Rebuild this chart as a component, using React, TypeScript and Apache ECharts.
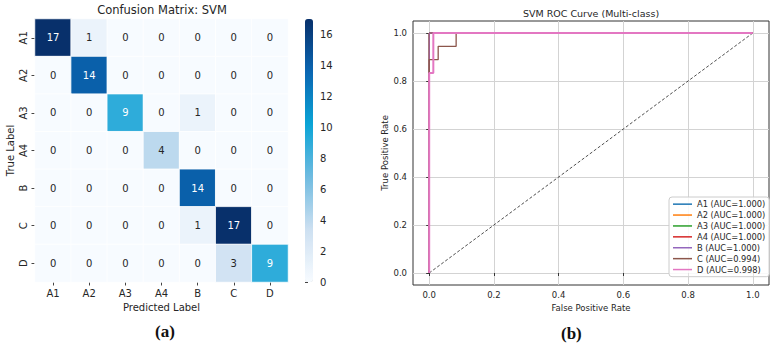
import React, { useEffect, useRef } from "react";
import * as echarts from "echarts";

const classes = ["A1", "A2", "A3", "A4", "B", "C", "D"];
const confusion = [
  [17, 1, 0, 0, 0, 0, 0],
  [0, 14, 0, 0, 0, 0, 0],
  [0, 0, 9, 0, 1, 0, 0],
  [0, 0, 0, 4, 0, 0, 0],
  [0, 0, 0, 0, 14, 0, 0],
  [0, 0, 0, 0, 1, 17, 0],
  [0, 0, 0, 0, 0, 3, 9],
];
const colorbarTicks = [0, 2, 4, 6, 8, 10, 12, 14, 16];
const rocTicks = [0, 0.2, 0.4, 0.6, 0.8, 1.0];

const rocNames = [
  "A1 (AUC=1.000)",
  "A2 (AUC=1.000)",
  "A3 (AUC=1.000)",
  "A4 (AUC=1.000)",
  "B (AUC=1.000)",
  "C (AUC=0.994)",
  "D (AUC=0.998)",
];
const rocColors = ["#1f77b4", "#ff7f0e", "#2ca02c", "#d62728", "#9467bd", "#8c564b", "#e377c2"];
const fprA1 = [0, 0, 1];
const tprA1 = [0, 1, 1];
const fprA2 = [0, 0, 1];
const tprA2 = [0, 1, 1];
const fprA3 = [0, 0, 1];
const tprA3 = [0, 1, 1];
const fprA4 = [0, 0, 1];
const tprA4 = [0, 1, 1];
const fprB = [0, 0, 1];
const tprB = [0, 1, 1];
const fprC = [0, 0, 0, 0.0278, 0.0278, 0.0833, 0.0833, 1];
const tprC = [0, 0.8333, 0.8889, 0.8889, 0.9444, 0.9444, 1, 1];
const fprD = [0, 0, 0.0128, 0.0128, 1];
const tprD = [0, 0.8333, 0.8333, 1, 1];
const rocFpr = [fprA1, fprA2, fprA3, fprA4, fprB, fprC, fprD];
const rocTpr = [tprA1, tprA2, tprA3, tprA4, tprB, tprC, tprD];
const diagFpr = [0, 1];
const diagTpr = [0, 1];

const FONT = "DejaVu Sans";

export default function App() {
  const ref = useRef<HTMLDivElement>(null);
  useEffect(() => {
    if (!ref.current) return;
    const chart = echarts.init(ref.current, null, { renderer: "svg" });

    const heatData: any[] = [];
    confusion.forEach((row, r) =>
      row.forEach((v, c) => {
        heatData.push({
          value: [c, r, v],
          label: { color: v >= 9 ? "#ffffff" : "#262626" },
        });
      })
    );

    const rocSeries = rocNames.map((name, i) => ({
      name,
      type: "line",
      xAxisIndex: 1,
      yAxisIndex: 1,
      data: rocFpr[i].map((x, j) => [x, rocTpr[i][j]]),
      showSymbol: false,
      symbol: "none",
      lineStyle: { color: rocColors[i], width: i === 6 ? 2 : i === 5 ? 1.3 : 1 },
      itemStyle: { color: rocColors[i] },
      z: 3 + i,
    }));

    const option: any = {
      animation: false,
      textStyle: { fontFamily: FONT },
      title: [
        {
          text: "Confusion Matrix: SVM",
          left: 162,
          top: 4,
          padding: 0,
          textAlign: "center",
          textStyle: { fontFamily: FONT, fontSize: 11.5, fontWeight: "normal", color: "#262626" },
        },
        {
          text: "SVM ROC Curve (Multi-class)",
          left: 591,
          top: 8,
          padding: 0,
          textAlign: "center",
          textStyle: { fontFamily: FONT, fontSize: 9.5, fontWeight: "normal", color: "#262626" },
        },
      ],
      grid: [
        { left: 35, top: 19, width: 253, height: 263 },
        {
          left: 413,
          top: 21,
          width: 356,
          height: 264,
          show: true,
          borderColor: "#333",
          borderWidth: 1,
          backgroundColor: "transparent",
        },
        { left: 305, top: 19, width: 8, height: 263 },
      ],
      xAxis: [
        {
          type: "category",
          gridIndex: 0,
          data: classes,
          position: "bottom",
          axisLine: { show: false },
          axisTick: { show: true, alignWithLabel: true, length: 3.5, lineStyle: { color: "#444" } },
          axisLabel: { fontSize: 10, color: "#262626", margin: 6, fontFamily: FONT },
          splitLine: { show: false },
          name: "Predicted Label",
          nameLocation: "middle",
          nameGap: 19,
          nameTextStyle: { fontSize: 10, color: "#262626", fontFamily: FONT },
        },
        {
          type: "value",
          gridIndex: 1,
          min: -0.05,
          max: 1.05,
          axisLine: { show: false },
          axisTick: { show: true, length: 3, customValues: rocTicks, lineStyle: { color: "#333" } },
          axisLabel: {
            customValues: rocTicks,
            fontSize: 8.5,
            color: "#262626",
            margin: 5,
            formatter: (v: number) => v.toFixed(1),
            fontFamily: FONT,
          },
          splitLine: { show: true, lineStyle: { color: "#d3d3d3", width: 1 } },
          name: "False Positive Rate",
          nameLocation: "middle",
          nameGap: 16,
          nameTextStyle: { fontSize: 8.5, color: "#262626", fontFamily: FONT },
        },
        {
          type: "value",
          gridIndex: 2,
          show: false,
          min: 0,
          max: 1,
        },
      ],
      yAxis: [
        {
          type: "category",
          gridIndex: 0,
          data: classes,
          inverse: true,
          axisLine: { show: false },
          axisTick: { show: true, alignWithLabel: true, length: 3.5, lineStyle: { color: "#444" } },
          axisLabel: { fontSize: 10, color: "#262626", margin: 7, rotate: 90, fontFamily: FONT },
          splitLine: { show: false },
          name: "True Label",
          nameLocation: "middle",
          nameRotate: 90,
          nameGap: 20,
          nameTextStyle: { fontSize: 10, color: "#262626", fontFamily: FONT },
        },
        {
          type: "value",
          gridIndex: 1,
          min: -0.05,
          max: 1.05,
          axisLine: { show: false },
          axisTick: { show: true, length: 3, customValues: rocTicks, lineStyle: { color: "#333" } },
          axisLabel: {
            customValues: rocTicks,
            fontSize: 8.5,
            color: "#262626",
            margin: 6,
            formatter: (v: number) => v.toFixed(1),
            fontFamily: FONT,
          },
          splitLine: { show: true, lineStyle: { color: "#d3d3d3", width: 1 } },
          name: "True Positive Rate",
          nameLocation: "middle",
          nameRotate: 90,
          nameGap: 21,
          nameTextStyle: { fontSize: 8.5, color: "#262626", fontFamily: FONT },
        },
        {
          type: "value",
          gridIndex: 2,
          position: "right",
          min: 0,
          max: 17,
          axisLine: { show: false },
          axisTick: { show: true, length: 3, customValues: colorbarTicks, lineStyle: { color: "#444" } },
          axisLabel: {
            customValues: colorbarTicks,
            fontSize: 10,
            color: "#262626",
            margin: 7,
            fontFamily: FONT,
          },
          splitLine: { show: false },
        },
      ],
      visualMap: {
        type: "continuous",
        seriesIndex: 0,
        min: 0,
        max: 17,
        calculable: false,
        orient: "vertical",
        left: 305,
        top: 19,
        itemWidth: 8,
        itemHeight: 263,
        padding: 0,
        text: null,
        showLabel: false,
        inRange: {
          color: ["#f7fbff", "#cde0f1", "#6fbbe0", "#0aa4d6", "#0a66b2", "#08306b"],
        },
      },
      legend: {
        data: rocNames,
        orient: "vertical",
        left: 669,
        top: 197,
        icon: "rect",
        itemWidth: 19,
        itemHeight: 1.5,
        itemGap: 0.6,
        padding: [2, 4, 2, 4],
        backgroundColor: "rgba(255,255,255,0.85)",
        borderColor: "#cccccc",
        borderWidth: 1,
        borderRadius: 3,
        textStyle: { fontSize: 8.3, color: "#262626", fontFamily: FONT, lineHeight: 10.3 },
      },
      graphic: [
        {
          type: "text",
          left: 155,
          top: 323,
          style: { text: "(a)", font: "bold 17px 'Liberation Serif'", fill: "#111" },
        },
        {
          type: "text",
          left: 561,
          top: 325,
          style: { text: "(b)", font: "bold 17px 'Liberation Serif'", fill: "#111" },
        },
      ],
      series: [
        {
          type: "heatmap",
          xAxisIndex: 0,
          yAxisIndex: 0,
          data: heatData,
          label: { show: true, fontSize: 10, fontFamily: FONT },
          itemStyle: { borderColor: "#ffffff", borderWidth: 0.8 },
          emphasis: { disabled: true },
        },
        {
          name: "diag",
          type: "line",
          xAxisIndex: 1,
          yAxisIndex: 1,
          data: diagFpr.map((x, j) => [x, diagTpr[j]]),
          showSymbol: false,
          symbol: "none",
          lineStyle: { color: "#222", width: 0.8, type: [3, 2] },
          z: 2,
        },
        ...rocSeries,
      ],
    };
    chart.setOption(option);
    return () => chart.dispose();
  }, []);
  return (
    <div
      ref={ref}
      style={{ position: "fixed", left: 0, top: 0, width: 772, height: 347, background: "#fff" }}
    />
  );
}
